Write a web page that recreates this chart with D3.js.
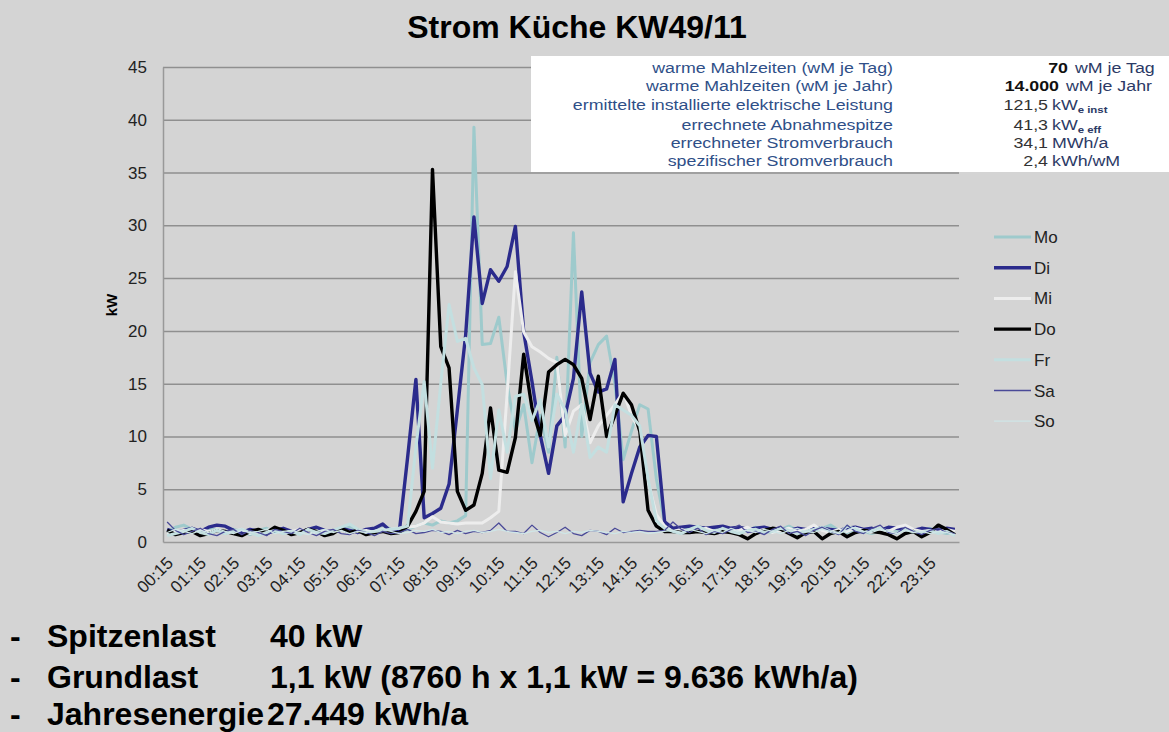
<!DOCTYPE html>
<html>
<head>
<meta charset="utf-8">
<title>Strom Küche KW49/11</title>
<style>
  body { margin: 0; background: #d4d4d4; }
  svg { display: block; font-family: "Liberation Sans", Arial, sans-serif; }
</style>
</head>
<body>
<svg id="chart" width="1169" height="732"></svg>
<script src="https://cdn.jsdelivr.net/npm/d3@7"></script>
<script>
// quarter-hour categories
const times = [
  "00:15","00:30","00:45","01:00","01:15","01:30","01:45","02:00",
  "02:15","02:30","02:45","03:00","03:15","03:30","03:45","04:00",
  "04:15","04:30","04:45","05:00","05:15","05:30","05:45","06:00",
  "06:15","06:30","06:45","07:00","07:15","07:30","07:45","08:00",
  "08:15","08:30","08:45","09:00","09:15","09:30","09:45","10:00",
  "10:15","10:30","10:45","11:00","11:15","11:30","11:45","12:00",
  "12:15","12:30","12:45","13:00","13:15","13:30","13:45","14:00",
  "14:15","14:30","14:45","15:00","15:15","15:30","15:45","16:00",
  "16:15","16:30","16:45","17:00","17:15","17:30","17:45","18:00",
  "18:15","18:30","18:45","19:00","19:15","19:30","19:45","20:00",
  "20:15","20:30","20:45","21:00","21:15","21:30","21:45","22:00",
  "22:15","22:30","22:45","23:00","23:15","23:30","23:45","24:00"
];
const tickLabels = ["00:15","01:15","02:15","03:15","04:15","05:15","06:15","07:15",
  "08:15","09:15","10:15","11:15","12:15","13:15","14:15","15:15",
  "16:15","17:15","18:15","19:15","20:15","21:15","22:15","23:15"];
const yTicks = [0, 5, 10, 15, 20, 25, 30, 35, 40, 45];

// kW per quarter hour
const mo = [
  1.0,1.4,1.6,1.2,0.9,1.3,1.1,0.8,1.2,1.0,0.7,1.1,
  1.3,0.9,1.2,1.0,0.8,1.1,1.4,1.0,0.9,1.2,1.5,1.1,
  0.9,1.3,1.6,1.2,1.0,1.2,1.5,1.8,1.6,2.0,1.8,2.0,
  2.5,39.3,18.7,18.8,21.3,15.0,10.5,13.0,7.5,12.0,8.5,17.5,
  9.0,29.3,10.0,17.0,18.7,19.5,15.0,7.8,10.5,13.0,12.6,6.0,
  1.8,1.2,1.0,1.4,1.1,0.9,1.3,1.0,1.2,0.8,1.1,1.4,
  1.0,0.9,1.2,1.5,1.1,0.8,1.0,1.3,1.6,1.1,0.9,1.2,
  1.0,0.8,1.1,1.4,1.0,1.2,0.9,1.1,1.3,1.0,0.8,0.9
];
const di = [
  1.2,0.9,1.1,1.3,1.0,1.4,1.6,1.5,1.1,0.9,1.2,1.0,
  0.8,1.1,1.3,1.0,0.9,1.2,1.4,1.1,1.0,1.3,1.1,0.9,
  1.2,1.3,1.7,1.0,1.0,8.0,15.4,2.3,2.7,3.2,5.5,12.5,
  19.6,30.8,22.6,25.8,24.7,26.1,29.9,19.9,15.2,10.1,6.5,11.0,
  12.0,15.5,23.7,16.0,14.2,14.5,17.3,3.8,6.5,9.0,10.1,10.0,
  1.9,1.3,1.4,1.5,1.4,1.3,1.4,1.5,1.3,1.4,1.2,1.3,
  1.4,1.2,1.3,1.1,1.3,1.2,1.4,1.3,1.2,1.1,1.3,1.4,
  1.2,1.3,1.1,1.4,1.3,1.2,1.1,1.3,1.2,1.1,1.3,1.2
];
const mi = [
  0.8,1.0,1.1,0.9,1.2,1.0,1.1,0.9,1.0,1.2,0.8,1.0,
  1.1,1.3,0.9,1.0,1.2,1.0,0.9,1.1,1.0,1.2,0.9,1.0,
  1.1,0.9,1.0,1.2,1.3,1.4,1.5,1.8,2.4,1.9,1.8,1.7,
  1.8,1.8,1.8,2.3,2.9,14.0,25.6,19.9,18.5,18.0,17.4,17.0,
  10.1,12.4,13.0,9.4,11.0,12.0,13.0,14.2,12.0,10.5,5.7,2.6,
  1.5,1.0,1.2,0.9,1.1,1.3,1.0,1.2,0.9,1.1,1.4,1.0,
  1.2,0.9,1.1,1.3,1.0,1.2,1.6,1.1,0.9,1.2,1.0,1.3,
  1.1,0.9,1.2,1.0,1.4,1.6,1.2,1.0,1.1,0.9,1.2,1.0
];
const don = [
  1.1,0.7,0.9,1.0,0.6,0.8,1.1,1.0,0.8,0.6,1.0,1.2,
  0.9,1.4,1.1,0.7,0.9,1.2,1.0,0.6,0.8,1.3,0.9,1.1,
  0.7,0.9,1.0,0.8,0.9,1.5,2.9,4.8,35.3,18.5,16.5,4.8,
  3.0,3.5,6.5,12.7,6.8,6.6,9.9,17.8,12.7,10.1,16.1,16.8,
  17.3,16.8,15.5,11.6,15.7,10.0,12.0,14.1,13.0,10.5,3.0,1.5,
  1.0,1.0,0.9,0.9,1.0,0.9,0.8,1.0,0.9,0.7,0.3,0.8,
  1.1,1.3,1.2,0.8,0.4,0.9,1.0,0.3,0.8,1.0,0.5,0.9,
  1.1,1.0,0.9,0.7,0.3,0.8,1.0,0.5,0.9,1.6,1.2,0.7
];
const fr = [
  0.6,0.8,1.0,1.3,0.9,0.7,1.1,0.8,1.0,1.2,0.9,0.6,
  0.9,1.1,0.8,1.0,0.7,1.2,0.9,0.8,1.1,1.4,1.7,1.2,
  0.9,1.0,1.1,1.2,1.3,1.5,9.0,15.2,7.0,15.0,22.5,19.0,
  19.3,16.5,14.9,6.0,12.5,8.5,13.8,14.0,11.5,13.5,9.0,14.0,
  12.5,8.5,13.0,8.0,9.0,8.5,13.0,12.5,12.0,11.0,6.0,2.0,
  1.3,1.0,0.8,1.2,1.5,1.1,0.9,1.3,1.0,0.8,1.1,1.2,
  0.9,1.0,1.3,1.1,0.8,1.0,1.2,1.4,1.0,0.8,1.5,1.2,
  0.9,1.1,1.3,1.0,0.8,1.2,1.0,0.9,1.1,0.8,1.0,0.6
];
const sa = [
  1.9,1.1,0.7,1.0,1.3,0.8,0.6,1.0,1.2,0.7,1.1,0.9,
  0.6,1.2,1.0,0.8,1.3,0.9,0.6,1.0,1.2,0.8,0.7,1.1,
  0.9,0.6,1.0,0.8,0.9,1.2,0.8,0.9,1.1,1.0,0.7,1.1,
  0.8,1.0,0.9,1.1,1.8,1.0,1.0,0.8,1.6,0.9,0.5,0.9,
  1.4,0.8,0.6,1.1,1.0,0.7,1.3,0.9,1.0,1.1,1.0,1.0,
  1.1,1.9,1.2,0.9,1.3,0.7,1.0,0.8,1.2,1.6,0.9,1.0,
  0.7,1.2,1.5,0.8,1.0,0.6,1.1,1.4,1.0,0.7,1.6,1.0,
  0.8,1.3,1.6,0.9,0.8,1.4,1.0,0.7,1.1,1.3,0.9,0.8
];
const so = [
  0.9,1.2,1.0,0.8,1.1,0.9,1.3,1.0,0.8,1.1,0.9,1.0,
  1.2,0.8,1.0,1.1,0.9,0.7,1.0,1.2,0.9,1.1,0.8,1.0,
  0.9,1.1,1.3,1.0,0.8,0.9,1.1,1.0,1.2,0.9,1.0,0.8,
  1.0,1.1,0.9,1.0,1.2,1.0,0.9,0.8,1.0,1.1,0.9,1.0,
  0.8,1.0,0.9,1.1,1.0,0.9,0.8,1.0,0.9,1.0,0.8,0.9,
  1.0,1.1,0.9,1.2,1.0,0.8,1.1,0.9,1.3,1.0,1.1,0.9,
  1.2,1.0,0.8,1.1,1.3,1.0,0.9,1.2,1.0,0.8,1.1,1.4,
  1.0,0.9,1.2,1.0,0.8,1.1,0.9,1.0,0.8,1.0,0.9,0.7
];

const seriesNames = ["Mo", "Di", "Mi", "Do", "Fr", "Sa", "So"];
const seriesValues = [mo, di, mi, don, fr, sa, so];

const infoLabels = [
  "warme Mahlzeiten (wM je Tag)",
  "warme Mahlzeiten (wM je Jahr)",
  "ermittelte installierte elektrische Leistung",
  "errechnete Abnahmespitze",
  "errechneter Stromverbrauch",
  "spezifischer Stromverbrauch"
];
const infoValues = ["70", "14.000", "121,5", "41,3", "34,1", "2,4"];
const infoUnits = ["wM je Tag", "wM je Jahr", "kW", "kW", "MWh/a", "kWh/wM"];
const infoSubs = ["", "", "e inst", "e eff", "", ""];

const summaryLabels = ["Spitzenlast", "Grundlast", "Jahresenergie"];
const summaryValues = ["40 kW", "1,1 kW (8760 h x 1,1 kW = 9.636 kWh/a)", "27.449 kWh/a"];

// styles
const colors = ["#9ecacc", "#2b2b8c", "#ededed", "#000000", "#c3dfe0", "#4a4a98", "#cfe6e7"];
const widths = [3, 3.4, 3, 3.4, 3, 1.3, 1.3];

const svg = d3.select("#chart");
const plotLeft = 163, plotRight = 959, plotTop = 67, plotBottom = 542;

svg.append("rect").attr("width", 1169).attr("height", 732).attr("fill", "#d4d4d4");

const x = d3.scaleBand().domain(times).range([plotLeft, plotRight]);
const y = d3.scaleLinear().domain([0, 45]).range([plotBottom, plotTop]);
const cx = d => x(d) + x.bandwidth() / 2;

// title
svg.append("text")
  .attr("x", 577).attr("y", 38)
  .attr("text-anchor", "middle")
  .attr("font-size", 32).attr("font-weight", "bold")
  .text("Strom Küche KW49/11");

// gridlines
svg.append("g")
  .attr("transform", "translate(" + plotLeft + ",0)")
  .call(d3.axisLeft(y).tickValues(yTicks.slice(1)).tickSize(-(plotRight - plotLeft)).tickFormat(""))
  .call(g => g.select(".domain").remove())
  .selectAll("line").attr("stroke", "#8f8f8f").attr("stroke-width", 1.5);

// y axis
svg.append("g")
  .attr("transform", "translate(" + plotLeft + ",0)")
  .call(d3.axisLeft(y).tickValues(yTicks).tickSize(0).tickPadding(16))
  .call(g => g.select(".domain").attr("stroke", "#999").attr("stroke-width", 1.5))
  .selectAll("text")
  .attr("font-size", 17).attr("fill", "#222")
  .attr("font-family", "Liberation Sans, Arial, sans-serif");

svg.append("text")
  .attr("transform", "translate(117,305) rotate(-90)")
  .attr("text-anchor", "middle")
  .attr("font-size", 15).attr("font-weight", "bold")
  .text("kW");

// x axis
svg.append("g")
  .attr("transform", "translate(0," + plotBottom + ")")
  .call(d3.axisBottom(x).tickValues(tickLabels).tickSize(0))
  .call(g => g.select(".domain").attr("stroke", "#999").attr("stroke-width", 1.5))
  .selectAll("text")
  .attr("font-size", 17).attr("fill", "#222")
  .attr("font-family", "Liberation Sans, Arial, sans-serif")
  .attr("text-anchor", "end")
  .attr("y", 0).attr("dy", 0)
  .attr("transform", "translate(7,22) rotate(-45)");

// lines
const line = d3.line()
  .x((d, i) => cx(times[i]))
  .y(d => y(d));

seriesValues.forEach((vals, k) => {
  svg.append("path")
    .datum(vals)
    .attr("fill", "none")
    .attr("stroke", colors[k])
    .attr("stroke-width", widths[k])
    .attr("stroke-linejoin", "round")
    .attr("d", line);
});

// legend
const legend = svg.append("g").attr("transform", "translate(994,237)");
seriesNames.forEach((name, k) => {
  const row = legend.append("g").attr("transform", "translate(0," + (k * 30.7) + ")");
  row.append("line")
    .attr("x1", 0).attr("x2", 37)
    .attr("stroke", colors[k]).attr("stroke-width", widths[k]);
  row.append("text")
    .attr("x", 40).attr("y", 6)
    .attr("font-size", 17).attr("fill", "#222")
    .text(name);
});

// info box
svg.append("rect")
  .attr("x", 531).attr("y", 56).attr("width", 638).attr("height", 116)
  .attr("fill", "#ffffff");

const rowY = [73, 91, 110, 130, 148, 166];
const valueEnd = [1068, 1059, 1048, 1048, 1048, 1048];
const unitStart = [1075, 1066, 1052, 1052, 1052, 1052];
infoLabels.forEach((label, i) => {
  svg.append("g")
    .attr("transform", "translate(893," + rowY[i] + ") scale(1.27,1)")
    .append("text")
    .attr("text-anchor", "end")
    .attr("font-size", 14).attr("fill", "#2f4f88")
    .text(label);
  svg.append("g")
    .attr("transform", "translate(" + valueEnd[i] + "," + rowY[i] + ") scale(1.27,1)")
    .append("text")
    .attr("text-anchor", "end")
    .attr("font-size", 14)
    .attr("font-weight", i < 2 ? "bold" : "normal")
    .attr("fill", i < 2 ? "#111" : "#333")
    .text(infoValues[i]);
  const u = svg.append("g")
    .attr("transform", "translate(" + unitStart[i] + "," + rowY[i] + ") scale(1.27,1)")
    .append("text")
    .attr("font-size", 14).attr("fill", "#2c3a66");
  u.append("tspan").text(infoUnits[i]);
  if (infoSubs[i]) {
    u.append("tspan")
      .attr("dy", 3).attr("font-size", 9).attr("font-weight", "bold")
      .text(infoSubs[i]);
  }
});

// summary lines under the chart
const sumY = [647, 688, 725];
const sumValueX = [270, 270, 267];
summaryLabels.forEach((label, i) => {
  const g = svg.append("g").attr("font-size", 32).attr("font-weight", "bold").attr("fill", "#000");
  g.append("text").attr("x", 10).attr("y", sumY[i]).text("-");
  g.append("text").attr("x", 47).attr("y", sumY[i]).text(label);
  g.append("text").attr("x", sumValueX[i]).attr("y", sumY[i]).text(summaryValues[i]);
});
</script>
</body>
</html>
